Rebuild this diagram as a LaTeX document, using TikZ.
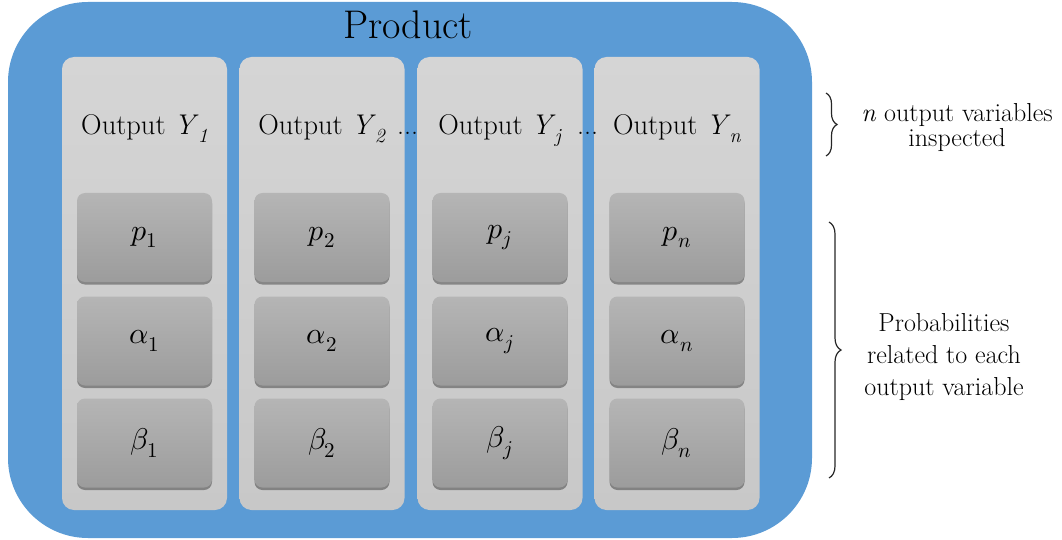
\documentclass[tikz,border=0pt]{standalone}
\usepackage{unicode-math}
\setmainfont{Latin Modern Roman}
\setmathfont{Latin Modern Math}
\usetikzlibrary{decorations.pathreplacing,shadows}
\definecolor{prodblue}{HTML}{5B9BD5}
\definecolor{coltop}{HTML}{D5D5D5}
\definecolor{colbot}{HTML}{C8C8C8}
\definecolor{boxtop}{HTML}{B5B5B5}
\definecolor{boxbot}{HTML}{9C9C9C}
\newcommand\yv[1]{\textit{Y}\kern-1pt\raisebox{-0.28em}{\fontsize{20}{20}\selectfont\textit{#1}}}
\tikzset{
  prodbox/.style={fill=prodblue, rounded corners=80pt, minimum width=804pt, minimum height=536pt, inner sep=0pt},
  colbox/.style={top color=coltop, bottom color=colbot, rounded corners=12pt, minimum width=165pt, minimum height=453pt, inner sep=0pt},
  probbox/.style={top color=boxtop, bottom color=boxbot, rounded corners=8pt, minimum width=135pt, minimum height=89pt, inner sep=0pt,
    drop shadow={shadow xshift=0pt, shadow yshift=-2.5pt, fill=black, opacity=0.35}, font=\fontsize{30}{34}\selectfont},
  outlabel/.style={anchor=base, font=\fontsize{28.5}{34}\selectfont, inner sep=0pt},
  dotlabel/.style={anchor=base, font=\fontsize{28}{34}\selectfont, inner sep=0pt},
  bracestyle/.style={decorate, line width=1.2pt, draw=black!85},
  sidetext/.style={align=center, inner sep=0pt}
}
\begin{document}
\begin{tikzpicture}[x=1pt,y=-1pt]
\useasboundingbox (0,0) rectangle (1062,540);
\node[prodbox] (prod) at (410,270) {};
\node[anchor=base, font=\fontsize{40}{48}\selectfont, inner sep=0pt] (ptitle) at (408,39) {Product};
% columns
\foreach \n/\x in {1/144.5, 2/322, j/500, n/677} {
  \node[colbox] (c\n) at (\x,283.5) {};
  \node[outlabel] (o\n) at (\x,135) {Output \yv{\n}};
  \node[probbox] (p\n) at (\x,237.5) {$p_{\n}$};
  \node[probbox] (a\n) at (\x,341) {$\alpha_{\n}$};
  \node[probbox] (b\n) at (\x,443) {$\beta_{\n}$};
}
\node[dotlabel] (d1) at (407.5,135) {...};
\node[dotlabel] (d2) at (587.5,135) {...};
% braces
\coordinate (b1t) at (826,93);
\coordinate (b1b) at (826,156);
\coordinate (b2t) at (829,222);
\coordinate (b2b) at (829,478);
\draw[bracestyle, decoration={brace, amplitude=11pt}] (b1t) -- (b1b);
\draw[bracestyle, decoration={brace, amplitude=12pt}] (b2t) -- (b2b);
\node[sidetext, font=\fontsize{26}{25}\selectfont] (t1) at (957,128) {\textit{n} output variables\\inspected};
\node[sidetext, font=\fontsize{26}{32}\selectfont] (t2) at (944,357) {Probabilities\\related to each\\output variable};
\end{tikzpicture}
\end{document}
